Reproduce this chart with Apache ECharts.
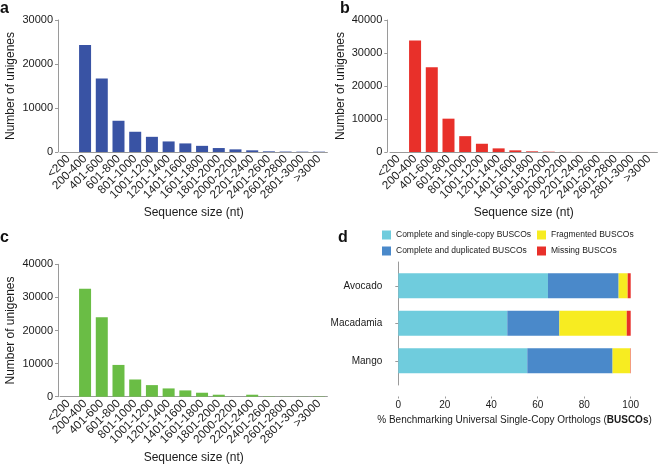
<!DOCTYPE html>
<html>
<head>
<meta charset="utf-8">
<script src="https://cdn.jsdelivr.net/npm/echarts@6/dist/echarts.min.js"></script>
<style>
html,body{margin:0;padding:0;background:#fff;}
#chart{width:659px;height:465px;}
</style>
</head>
<body>
<div id="chart"></div>
<script>
// ---- data ----
var sizeCategories = ['<200','200-400','401-600','601-800','801-1000','1001-1200','1201-1400','1401-1600','1601-1800','1801-2000','2000-2200','2201-2400','2401-2600','2601-2800','2801-3000','>3000'];
var countsA = [0, 24300, 16700, 7100, 4600, 3450, 2400, 1950, 1400, 900, 600, 380, 150, 100, 80, 80];
var countsB = [0, 33800, 25700, 10100, 4800, 2500, 1100, 500, 200, 100, 30, 20, 10, 10, 10, 10];
var countsC = [0, 32600, 24000, 9600, 5200, 3500, 2500, 1900, 1200, 600, 0, 600, 100, 50, 50, 100];
var species = ['Avocado', 'Macadamia', 'Mango'];
var buscoSingle = [64.4, 46.9, 55.5];
var buscoDuplicated = [30.4, 22.4, 36.7];
var buscoFragmented = [3.9, 29.0, 7.6];
var buscoMissing = [1.3, 1.7, 0.2];
var buscoNames = ['Complete and single-copy BUSCOs', 'Complete and duplicated BUSCOs', 'Fragmented BUSCOs', 'Missing BUSCOs'];

var FONT = 'Liberation Sans, Arial, Helvetica, sans-serif';
var AX = '#9a9a9a';
var TXT = '#1a1a1a';

function histX(gi) {
  return {
    type: 'category', gridIndex: gi, data: sizeCategories,
    axisLine: {lineStyle: {color: AX, width: 1}},
    axisTick: {show: false},
    axisLabel: {rotate: 45, fontSize: 11.8, color: TXT, fontFamily: FONT, margin: 5, interval: 0},
    name: 'Sequence size (nt)', nameLocation: 'middle', nameGap: 55,
    nameTextStyle: {fontSize: 12, color: TXT, fontFamily: FONT}
  };
}
function histY(gi, max, off) {
  return {
    type: 'value', gridIndex: gi, min: 0, max: max, interval: 10000, offset: off,
    axisLine: {show: true, lineStyle: {color: AX, width: 1}},
    axisTick: {show: true, length: 3, lineStyle: {color: AX}},
    axisLabel: {fontSize: 11, color: TXT, fontFamily: FONT, margin: 5,
      formatter: function (v) { return String(v); }},
    splitLine: {show: false},
    name: 'Number of unigenes', nameLocation: 'middle', nameGap: 41,
    nameTextStyle: {fontSize: 12, color: TXT, fontFamily: FONT}
  };
}
function panelTitle(t, l, top) {
  return {text: t, left: l, top: top, padding: 0,
    textStyle: {fontSize: 16, fontWeight: 'bold', color: '#111', fontFamily: FONT}};
}

var chart = echarts.init(document.getElementById('chart'), null, {renderer: 'canvas'});
var legendText = {fontSize: 8.5, color: TXT, fontFamily: FONT, lineHeight: 9};
var option = {
  animation: false,
  backgroundColor: '#fff',
  title: [panelTitle('a', 0, 1), panelTitle('b', 340, 1), panelTitle('c', 0, 230), panelTitle('d', 338, 230)],
  legend: [
    {left: 382, top: 230.5, orient: 'vertical', padding: 0, itemGap: 7, itemWidth: 9, itemHeight: 9,
     icon: 'rect', data: [buscoNames[0], buscoNames[1]], textStyle: legendText},
    {left: 537, top: 230.5, orient: 'vertical', padding: 0, itemGap: 7, itemWidth: 9, itemHeight: 9,
     icon: 'rect', data: [buscoNames[2], buscoNames[3]], textStyle: legendText}
  ],
  grid: [
    {left: 60, top: 20, width: 267.4, height: 132},
    {left: 390, top: 20, width: 267.4, height: 132},
    {left: 60, top: 264.3, width: 267.4, height: 132.4},
    {left: 398.3, top: 267, width: 232.4, height: 112.5},
    {left: 398.3, top: 262, width: 232.4, height: 123}
  ],
  xAxis: [
    histX(0), histX(1), histX(2),
    {type: 'value', gridIndex: 3, min: 0, max: 100, interval: 20, offset: 17,
     axisLine: {lineStyle: {color: AX}}, axisTick: {show: true, length: 2, lineStyle: {color: AX}},
     axisLabel: {fontSize: 10, color: TXT, fontFamily: FONT, margin: 4},
     splitLine: {show: false},
     name: '{n|% Benchmarking Universal Single-Copy Orthologs (}{b|BUSCOs}{n|)}',
     nameLocation: 'middle', nameGap: 19,
     nameTextStyle: {fontSize: 10, color: TXT, fontFamily: FONT,
       rich: {n: {fontSize: 10, color: TXT, fontFamily: FONT}, b: {fontSize: 10, fontWeight: 'bold', color: TXT, fontFamily: FONT}}}},
    {type: 'value', gridIndex: 4, show: false}
  ],
  yAxis: [
    histY(0, 30000, 2), histY(1, 40000, 2.7), histY(2, 40000, 2),
    {type: 'category', gridIndex: 3, data: species, inverse: true, offset: 12,
     axisLine: {show: false},
     axisTick: {show: true, alignWithLabel: true, length: 3, lineStyle: {color: AX}},
     axisLabel: {fontSize: 10, color: TXT, fontFamily: FONT, margin: 4}},
    {type: 'value', gridIndex: 4, offset: 12,
     axisLine: {show: true, lineStyle: {color: AX}}, axisTick: {show: false},
     axisLabel: {show: false}, splitLine: {show: false}}
  ],
  series: [
    {type: 'bar', xAxisIndex: 0, yAxisIndex: 0, data: countsA, barWidth: 12, itemStyle: {color: '#3953A4'}},
    {type: 'bar', xAxisIndex: 1, yAxisIndex: 1, data: countsB, barWidth: 12, itemStyle: {color: '#E8302A'}},
    {type: 'bar', xAxisIndex: 2, yAxisIndex: 2, data: countsC, barWidth: 12, itemStyle: {color: '#6ABD45'}},
    {type: 'bar', name: buscoNames[0], xAxisIndex: 3, yAxisIndex: 3, stack: 'b', data: buscoSingle, barWidth: 25, itemStyle: {color: '#6FCCDD'}},
    {type: 'bar', name: buscoNames[1], xAxisIndex: 3, yAxisIndex: 3, stack: 'b', data: buscoDuplicated, barWidth: 25, itemStyle: {color: '#4A89CA'}},
    {type: 'bar', name: buscoNames[2], xAxisIndex: 3, yAxisIndex: 3, stack: 'b', data: buscoFragmented, barWidth: 25, itemStyle: {color: '#F7EC21'}},
    {type: 'bar', name: buscoNames[3], xAxisIndex: 3, yAxisIndex: 3, stack: 'b', data: buscoMissing, barWidth: 25, itemStyle: {color: '#E8302A'}}
  ]
};
chart.setOption(option);
</script>
</body>
</html>
